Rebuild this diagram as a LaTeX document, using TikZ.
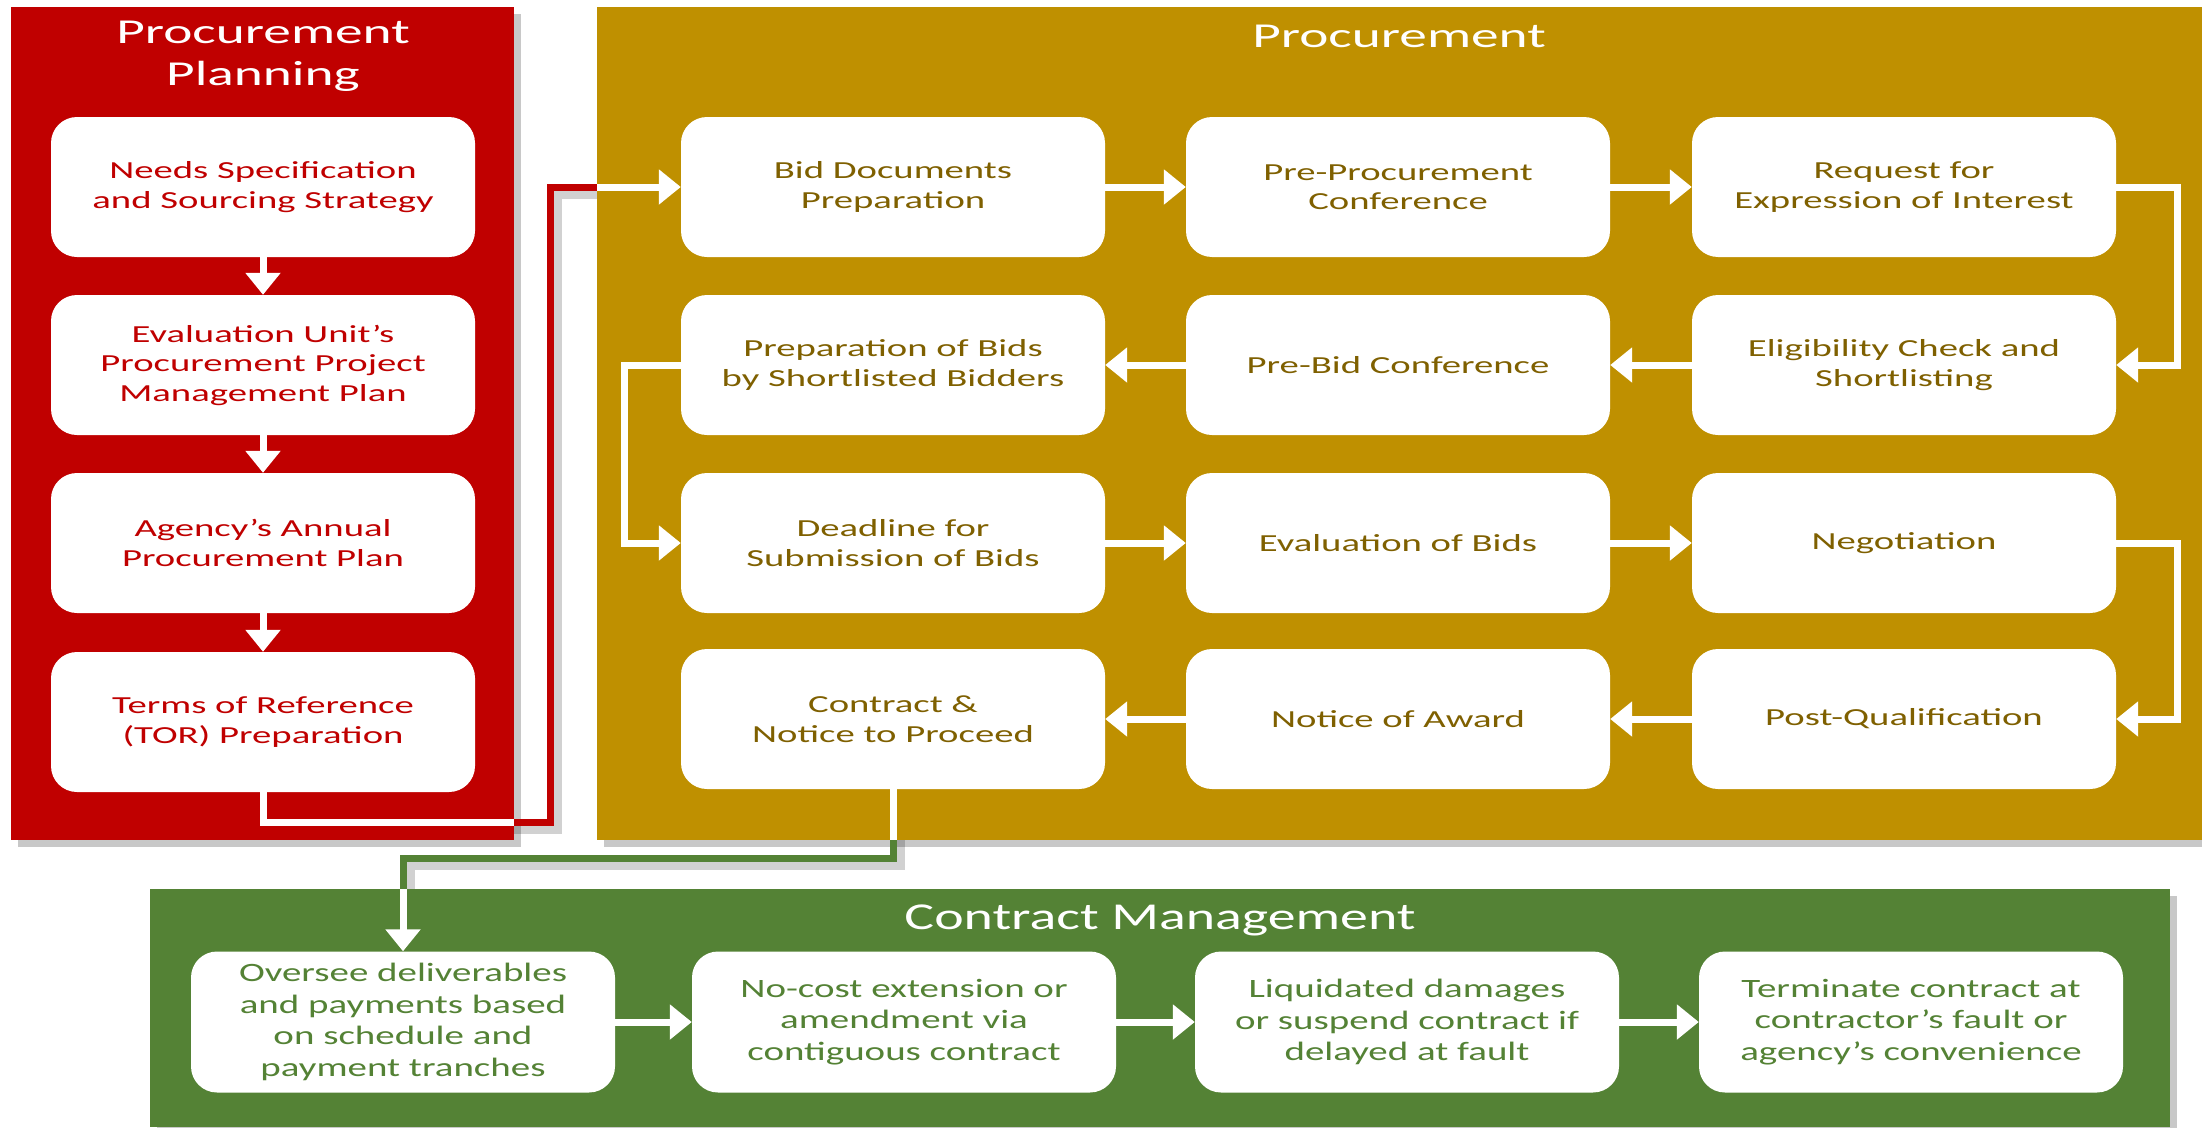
\documentclass[tikz,border=0pt]{standalone}
\usepackage{fontspec}
\usetikzlibrary{arrows.meta,shadows}
\setmainfont{Carlito}
\newfontfamily\stepfont[FakeStretch=1.58]{Carlito}
\newfontfamily\cmfont[FakeStretch=1.47]{Carlito}
\definecolor{planred}{HTML}{C00000}
\definecolor{procgold}{HTML}{BF9000}
\definecolor{procgoldtext}{HTML}{7F6000}
\definecolor{cmgreen}{HTML}{548235}

\begin{document}
\begin{tikzpicture}[x=1pt,y=-1pt,
  panelshadow/.style={drop shadow={shadow xshift=7pt,shadow yshift=-7pt,opacity=0.3,fill=black!70}},
  stepbox/.style={fill=white, rounded corners=26pt, minimum width=424pt, minimum height=140pt,
                  align=center, inner sep=0pt},
  redbox/.style={stepbox, text=planred, font={\stepfont\fontsize{24.5}{29.5}\selectfont}},
  goldbox/.style={stepbox, text=procgoldtext, font={\stepfont\fontsize{24.5}{29.5}\selectfont}},
  greenbox/.style={stepbox, minimum height=141pt, text=cmgreen, font={\cmfont\fontsize{26.5}{31.5}\selectfont}},
  paneltitle/.style={text=white, align=center, inner sep=0pt},
  wire/.style={draw=white, line width=7pt, -{Triangle[width=34pt,length=22pt]}},
  plainwire/.style={draw=white, line width=7pt},
  wireshadow/.style={draw=black, opacity=0.18, line width=9pt},
]
\useasboundingbox (0,0) rectangle (2202,1127);
\fill[white] (0,0) rectangle (2202,1127);

% ---- panels ----
\fill[planred, panelshadow] (11,7) rectangle (514,840);
\fill[procgold, panelshadow] (597,7) rectangle (2202,840);
\fill[cmgreen, panelshadow] (150,889) rectangle (2170,1127);

% ---- panel titles ----
\node[paneltitle, font={\stepfont\fontsize{35}{42}\selectfont}] (plantitle) at (263,56) {Procurement\\Planning};
\node[paneltitle, font={\stepfont\fontsize{35}{42}\selectfont}] (proctitle) at (1399,36) {Procurement};
\node[paneltitle, font={\cmfont\fontsize{38}{44}\selectfont}] (cmtitle) at (1160,920) {Contract Management};

% ---- procurement planning steps ----
\node[redbox] (needs)    at (263,187) {Needs Specification\\and Sourcing Strategy};
\node[redbox] (evalplan) at (263,365) {Evaluation Unit’s\\Procurement Project\\Management Plan};
\node[redbox] (annual)   at (263,543) {Agency’s Annual\\Procurement Plan};
\node[redbox] (tor)      at (263,722) {Terms of Reference\\(TOR) Preparation};

% ---- procurement steps ----
\node[goldbox] (biddocs)  at (893,187)  {Bid Documents\\Preparation};
\node[goldbox] (preproc)  at (1398,187) {Pre-Procurement\\Conference};
\node[goldbox] (reoi)     at (1904,187) {Request for\\Expression of Interest};
\node[goldbox] (prepbids) at (893,365)  {Preparation of Bids\\by Shortlisted Bidders};
\node[goldbox] (prebid)   at (1398,365) {Pre-Bid Conference};
\node[goldbox] (elig)     at (1904,365) {Eligibility Check and\\Shortlisting};
\node[goldbox] (deadline) at (893,543)  {Deadline for\\Submission of Bids};
\node[goldbox] (evalbids) at (1398,543) {Evaluation of Bids};
\node[goldbox] (nego)     at (1904,543) {Negotiation};
\node[goldbox] (contract) at (893,719)  {Contract \&\\Notice to Proceed};
\node[goldbox] (award)    at (1398,719) {Notice of Award};
\node[goldbox] (postqual) at (1904,719) {Post-Qualification};

% ---- contract management steps ----
\node[greenbox] (oversee)   at (403,1022)  {Oversee deliverables\\and payments based\\on schedule and\\payment tranches};
\node[greenbox] (nocost)    at (904,1022)  {No-cost extension or\\amendment via\\contiguous contract};
\node[greenbox] (liquid)    at (1407,1022) {Liquidated damages\\or suspend contract if\\delayed at fault};
\node[greenbox] (terminate) at (1911,1022) {Terminate contract at\\contractor’s fault or\\agency’s convenience};

% ---- planning flow ----
\draw[wire] (needs) -- (evalplan);
\draw[wire] (evalplan) -- (annual);
\draw[wire] (annual) -- (tor);

% ---- planning to procurement ----
\coordinate (tordrop) at (263,822);
\coordinate (redcornerlow) at (550,822);
\coordinate (redcornerhigh) at (550,187);
\draw[wire] (tor.south) -- (tordrop) -- (redcornerlow) -- (redcornerhigh) -- (biddocs.west);
\draw[wireshadow] (514,829) -- (557,829) -- (557,194) -- (597,194);
\draw[draw=planred, line width=7pt] (514,822) -- (redcornerlow) -- (redcornerhigh) -- (597,187);

% ---- procurement flow ----
\draw[wire] (biddocs) -- (preproc);
\draw[wire] (preproc) -- (reoi);
\draw[wire] (reoi.east) -- ++(61,0) |- (elig.east);
\draw[wire] (elig) -- (prebid);
\draw[wire] (prebid) -- (prepbids);
\draw[wire] (prepbids.west) -- ++(-56,0) |- (deadline.west);
\draw[wire] (deadline) -- (evalbids);
\draw[wire] (evalbids) -- (nego);
\draw[wire] (nego.east) -- ++(61,0) |- (postqual.east);
\draw[wire] (postqual) -- (award);
\draw[wire] (award) -- (contract);

% ---- procurement to contract management ----
\coordinate (grncornerright) at (893,858);
\coordinate (grncornerleft) at (403,858);
\draw[wire] (contract.south) -- (grncornerright) -- (grncornerleft) -- (oversee.north);
\draw[wireshadow] (900,840) -- (900,865) -- (410,865) -- (410,889);
\draw[draw=cmgreen, line width=7pt] (893,840) -- (grncornerright) -- (grncornerleft) -- (403,889);

% ---- contract management flow ----
\draw[wire] (oversee) -- (nocost);
\draw[wire] (nocost) -- (liquid);
\draw[wire] (liquid) -- (terminate);
\end{tikzpicture}
\end{document}
